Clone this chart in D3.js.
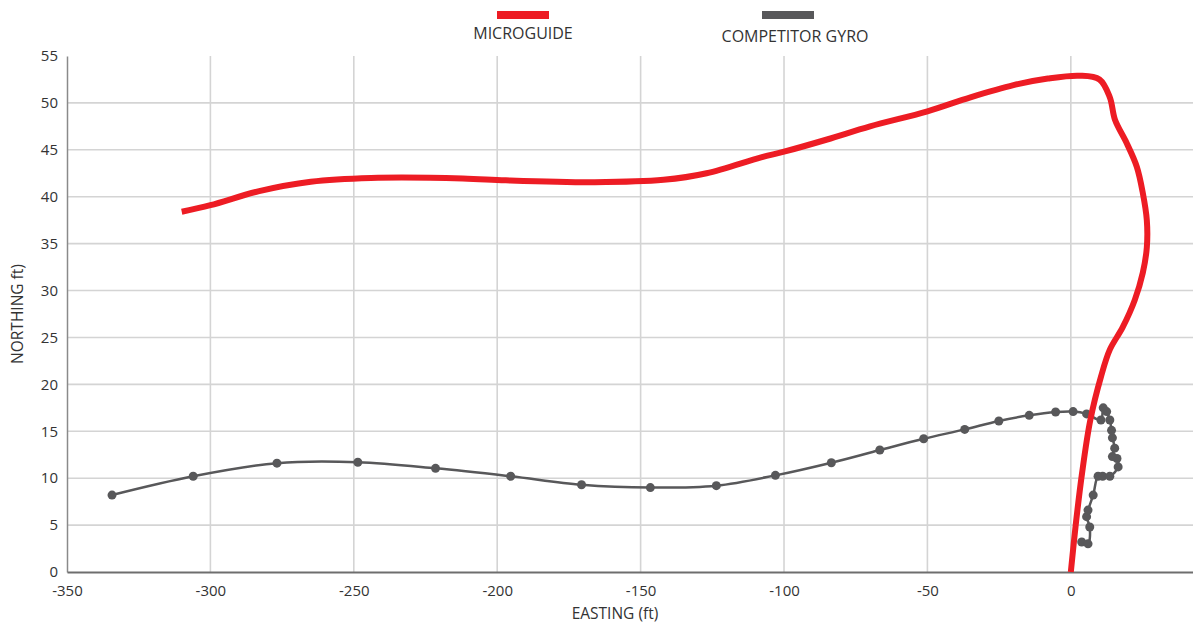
<!DOCTYPE html>
<html>
<head>
<meta charset="utf-8">
<script src="https://cdn.jsdelivr.net/npm/d3@7"></script>
<style>
  body { margin: 0; background: #fff; }
  text { font-family: "Open Sans", sans-serif; fill: #333; }
</style>
</head>
<body>
<div id="chart"></div>
<script>
// easting / northing in ft
var microguide = [
  [-310, 38.4], [-300, 39.1], [-283, 40.6], [-265, 41.6], [-244, 42.0], [-212, 41.95],
  [-197, 41.75], [-166, 41.55], [-142, 41.8], [-127, 42.5], [-108, 44.2], [-100, 44.8],
  [-85, 46.1], [-70, 47.5], [-50, 49.1], [-35, 50.6], [-20, 51.9], [-8, 52.6], [3, 52.9],
  [10, 52.5], [13.6, 50.6], [15.4, 48.2], [19.5, 45.7], [23, 43.2], [25.1, 40.4],
  [26.5, 37.5], [26.5, 34.6], [25.1, 31.9], [22.3, 29], [18.1, 26.1], [13.6, 23.7],
  [10.5, 20.8], [6.8, 16.2], [3.9, 10.5], [1.7, 5.0], [0, 0]
];

var gyro = [
  [3.8, 3.2], [6.0, 3.0], [6.6, 4.8], [5.5, 5.9], [6.0, 6.6], [7.8, 8.2], [9.5, 10.2],
  [11.1, 10.2], [13.6, 10.2], [16.5, 11.2], [16.1, 12.1], [14.5, 12.3], [15.3, 13.2],
  [14.5, 14.3], [14.2, 15.1], [13.6, 16.2], [12.5, 17.1], [11.3, 17.5], [10.5, 16.2],
  [5.5, 16.85], [0.8, 17.1], [-5.3, 17.05], [-14.5, 16.7], [-25.1, 16.1], [-37.0, 15.2],
  [-51.3, 14.2], [-66.6, 13.0], [-83.5, 11.65], [-103.0, 10.3], [-123.6, 9.2],
  [-146.6, 9.0], [-170.6, 9.3], [-195.3, 10.2], [-221.5, 11.05], [-248.6, 11.7],
  [-276.8, 11.6], [-306.0, 10.2], [-334.3, 8.2]
];

var xTicks = [-350, -300, -250, -200, -150, -100, -50, 0];
var yTicks = [0, 5, 10, 15, 20, 25, 30, 35, 40, 45, 50, 55];
var legendItems = ["MICROGUIDE", "COMPETITOR GYRO"];
var colors = ["#ed1c24", "#58585a"];

var width = 1193, height = 624,
    margin = { top: 56, right: 0, bottom: 52, left: 67 };

var svg = d3.select("#chart").append("svg")
    .attr("width", width)
    .attr("height", height);

var x = d3.scaleLinear()
    .domain([-350, 42.6])
    .range([margin.left, width - margin.right]);

var y = d3.scaleLinear()
    .domain([0, 55])
    .range([height - margin.bottom, margin.top]);

// grid
svg.append("g")
    .selectAll("line")
    .data(xTicks.filter(function(d){ return d > -350; }))
    .enter().append("line")
    .attr("x1", function(d){ return x(d); })
    .attr("x2", function(d){ return x(d); })
    .attr("y1", y(0))
    .attr("y2", y(55))
    .attr("stroke", "#d4d4d4")
    .attr("stroke-width", 1.6);

svg.append("g")
    .selectAll("line")
    .data(yTicks.filter(function(d){ return d > 0 && d < 55; }))
    .enter().append("line")
    .attr("x1", x(-350))
    .attr("x2", width)
    .attr("y1", function(d){ return y(d); })
    .attr("y2", function(d){ return y(d); })
    .attr("stroke", "#d4d4d4")
    .attr("stroke-width", 1.6);

// axes (plain hyphen for negatives, like the original)
var fmt = function(d){ return String(d); };

var yAxis = svg.append("g")
    .attr("transform", "translate(" + margin.left + ",0)")
    .call(d3.axisLeft(y).tickValues(yTicks).tickFormat(fmt).tickSize(0).tickPadding(9));
yAxis.select(".domain").attr("stroke", "#8a8a8a").attr("stroke-width", 1.5);
yAxis.selectAll("text").style("font-size", "15px").attr("fill", "#333");

var xAxis = svg.append("g")
    .attr("transform", "translate(0," + y(0) + ")")
    .call(d3.axisBottom(x).tickValues(xTicks).tickFormat(fmt).tickSize(0).tickPadding(13));
xAxis.select(".domain").attr("stroke", "#6e6e6e").attr("stroke-width", 2);
xAxis.selectAll("text").style("font-size", "15px").attr("fill", "#333");

svg.append("text")
    .attr("x", (margin.left + width) / 2 - 15)
    .attr("y", 619)
    .attr("text-anchor", "middle")
    .style("font-size", "15.5px")
    .text("EASTING (ft)");

svg.append("text")
    .attr("transform", "translate(23," + y(27.5) + ") rotate(-90)")
    .attr("text-anchor", "middle")
    .style("font-size", "15.5px")
    .text("NORTHING ft)");

// series
var line = d3.line()
    .x(function(d){ return x(d[0]); })
    .y(function(d){ return y(d[1]); })
    .curve(d3.curveCatmullRom.alpha(0.5));

svg.append("path")
    .datum(gyro)
    .attr("fill", "none")
    .attr("stroke", colors[1])
    .attr("stroke-width", 2.5)
    .attr("d", line);

svg.append("g")
    .selectAll("circle")
    .data(gyro)
    .enter().append("circle")
    .attr("cx", function(d){ return x(d[0]); })
    .attr("cy", function(d){ return y(d[1]); })
    .attr("r", 4.5)
    .attr("fill", colors[1]);

svg.append("path")
    .datum(microguide)
    .attr("fill", "none")
    .attr("stroke", colors[0])
    .attr("stroke-width", 6)
    .attr("d", line);

// legend
var legendX = [523, 795];
var legend = svg.append("g")
    .selectAll("g")
    .data(legendItems)
    .enter().append("g")
    .attr("transform", function(d, i){ return "translate(" + legendX[i] + ",0)"; });

legend.append("rect")
    .attr("x", function(d, i){ return i ? -33 : -26; })
    .attr("y", 11)
    .attr("width", 52)
    .attr("height", 8)
    .attr("fill", function(d, i){ return colors[i]; });

legend.append("text")
    .attr("y", function(d, i){ return i ? 42 : 39; })
    .attr("text-anchor", "middle")
    .style("font-size", "16px")
    .text(function(d){ return d; });
</script>
</body>
</html>
